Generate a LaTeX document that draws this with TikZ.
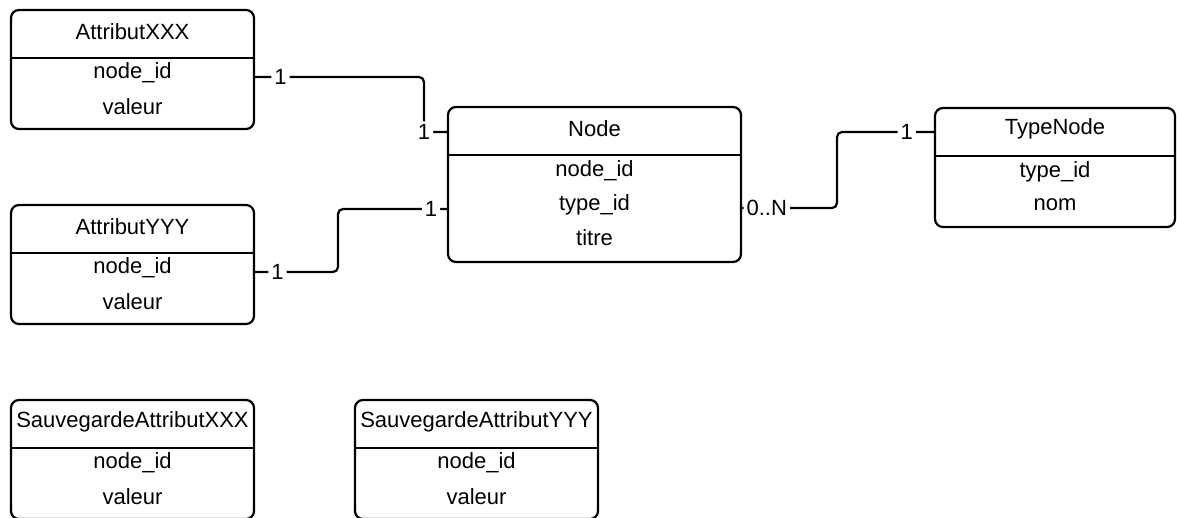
\documentclass[tikz,border=0pt]{standalone}
\usepackage{fontspec}
\setmainfont{Liberation Sans}
\usepackage{tikz}

\tikzset{
  entity/.style={draw, line width=2.2pt, rounded corners=8pt, inner sep=0pt, minimum height=119pt},
  sep/.style={line width=2.2pt},
  link/.style={line width=2.2pt, rounded corners=5pt},
  card/.style={fill=white, inner sep=3pt},
  field/.style={inner sep=0pt}
}

\begin{document}
\begin{tikzpicture}[x=1pt, y=-1pt, font=\fontsize{22}{26}\selectfont]
      \useasboundingbox (0,0) rectangle (1177,517);

      % Attribute tables on the left
      \node[entity, minimum width=243pt] (attrX) at (132.5,69.5) {};
      \draw[sep] ([yshift=-49pt]attrX.north west) -- ([yshift=-49pt]attrX.north east);
      \node[field] (attrXtitle) at (132.5,32) {AttributXXX};
      \node[field] (attrXid) at (132.5,73) {node\_id};
      \node[field] (attrXval) at (132.5,107) {valeur};

      \node[entity, minimum width=243pt] (attrY) at (132.5,264.5) {};
      \draw[sep] ([yshift=-49pt]attrY.north west) -- ([yshift=-49pt]attrY.north east);
      \node[field] (attrYtitle) at (132.5,227) {AttributYYY};
      \node[field] (attrYid) at (132.5,268) {node\_id};
      \node[field] (attrYval) at (132.5,302) {valeur};

      % Central table
      \node[entity, minimum width=293pt, minimum height=155pt] (Node) at (594.5,184.5) {};
      \draw[sep] ([yshift=-49pt]Node.north west) -- ([yshift=-49pt]Node.north east);
      \node[field] (nodeTitle) at (594.5,129) {Node};
      \node[field] (nodeId) at (594.5,171) {node\_id};
      \node[field] (nodeType) at (594.5,205) {type\_id};
      \node[field] (nodeTitre) at (594.5,238) {titre};

      % Type table on the right
      \node[entity, minimum width=240pt] (typeNode) at (1055,167.5) {};
      \draw[sep] ([yshift=-49pt]typeNode.north west) -- ([yshift=-49pt]typeNode.north east);
      \node[field] (typeTitle) at (1055,129) {TypeNode};
      \node[field] (typeId) at (1055,172) {type\_id};
      \node[field] (typeNom) at (1055,205) {nom};

      % Backup tables at the bottom
      \node[entity, minimum width=243pt] (saveX) at (132.5,459.5) {};
      \draw[sep] ([yshift=-49pt]saveX.north west) -- ([yshift=-49pt]saveX.north east);
      \node[field] (saveXtitle) at (132.5,422) {SauvegardeAttributXXX};
      \node[field] (saveXid) at (132.5,463) {node\_id};
      \node[field] (saveXval) at (132.5,497) {valeur};

      \node[entity, minimum width=243pt] (saveY) at (476.5,459.5) {};
      \draw[sep] ([yshift=-49pt]saveY.north west) -- ([yshift=-49pt]saveY.north east);
      \node[field] (saveYtitle) at (476.5,422) {SauvegardeAttributYYY};
      \node[field] (saveYid) at (476.5,463) {node\_id};
      \node[field] (saveYval) at (476.5,497) {valeur};

      % Relations
      \draw[link] (attrX.east |- 0,77) -- node[card, pos=0.15] {1} (424,77) -- (424,132)
        -- node[card, at start] {1} (Node.west |- 0,132);
      \draw[link] (attrY.east |- 0,272) -- node[card, pos=0.27] {1} (338,272) -- (338,209)
        -- node[card, pos=0.855] {1} (Node.west |- 0,209);
      \draw[link] (Node.east |- 0,208) -- node[card, pos=0.26] {0..N} (837,208) -- (837,132)
        -- node[card, pos=0.72] {1} (typeNode.west |- 0,132);
    \end{tikzpicture}
\end{document}
